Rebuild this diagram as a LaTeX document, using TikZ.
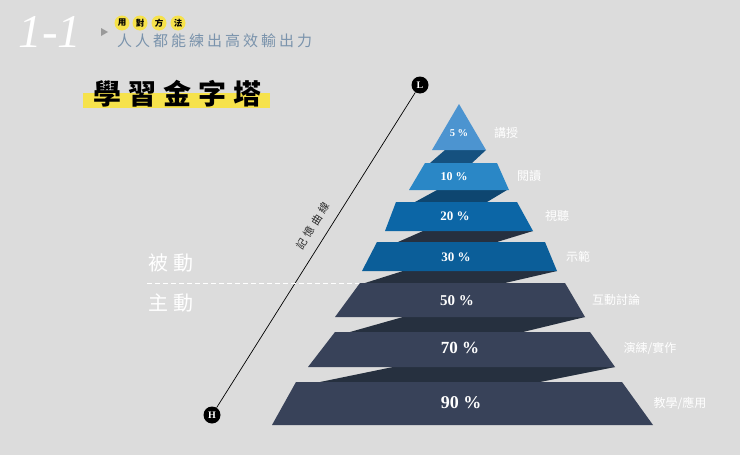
\documentclass[tikz,border=0pt]{standalone}
\usepackage{fontspec}
\setmainfont{Liberation Serif}
\newfontfamily\cjk{Noto Sans CJK TC}
\definecolor{bg}{HTML}{DCDCDC}
\definecolor{tA}{HTML}{4C94D0}
\definecolor{tB}{HTML}{2A87C6}
\definecolor{tC}{HTML}{0C66A6}
\definecolor{tD}{HTML}{0B5E99}
\definecolor{tE}{HTML}{384259}
\definecolor{sA}{HTML}{15517F}
\definecolor{sB}{HTML}{0E4670}
\definecolor{sC}{HTML}{26303F}
\definecolor{ylw}{HTML}{F6E24B}
\definecolor{subc}{HTML}{7A93AC}
\definecolor{arrc}{HTML}{9A9A9A}
\begin{document}
\begin{tikzpicture}[x=1pt,y=-1pt,
  pct/.style={text=white,inner sep=0pt},
  lbl/.style={text=white,inner sep=0pt,font=\cjk\fontsize{12}{12}\selectfont},
  side/.style={text=white,inner sep=0pt,font=\cjk\fontsize{20}{20}\selectfont},
  dot/.style={circle,fill=ylw,minimum size=15pt,inner sep=0pt,font=\cjk\bfseries\fontsize{8.5}{8.5}\selectfont},
  endpt/.style={circle,fill=black,minimum size=17pt,inner sep=0pt,text=white,font=\bfseries\fontsize{10}{10}\selectfont}]
\fill[bg] (0,0) rectangle (740,455);
\useasboundingbox (0,0) rectangle (740,455);

% header
\node[text=white,inner sep=0pt,font=\itshape\fontsize{47}{47}\selectfont] (num) at (50,32) {1-1};
\fill[arrc] (101,28) -- (108,32) -- (101,36) -- cycle;
\node[dot] (c1) at (122,23) {用};
\node[dot] (c2) at (140,23) {對};
\node[dot] (c3) at (159,23) {方};
\node[dot] (c4) at (178,23) {法};
\node[text=subc,inner sep=0pt,anchor=west,font=\cjk\fontsize{15}{15}\selectfont] (sub) at (117,41)
 {人\kern3pt 人\kern3pt 都\kern3pt 能\kern3pt 練\kern3pt 出\kern3pt 高\kern3pt 效\kern3pt 輸\kern3pt 出\kern3pt 力};

% title
\fill[ylw] (83,93) rectangle (270,108);
\node[inner sep=0pt,font=\cjk\bfseries\fontsize{28}{28}\selectfont] (title) at (177,94)
 {學\kern7pt 習\kern7pt 金\kern7pt 字\kern7pt 塔};

% memory line
\node[endpt] (L) at (420,85) {L};
\node[endpt] (H) at (212,415) {H};
\draw[line width=0.7pt] (L) -- (H);
\node[rotate=57.8,inner sep=0pt,text=black!85,font=\cjk\fontsize{10.5}{10.5}\selectfont] (curve) at (313,226)
 {記\kern3.5pt 憶\kern3.5pt 曲\kern3.5pt 線};

% passive / active
\coordinate (d0) at (147,283);
\coordinate (t5tl) at (360,283);
\draw[white,line width=1pt,dash pattern=on 5pt off 3pt] (d0) -- (t5tl);
\node[side] (passive) at (171,263) {被\kern5pt 動};
\node[side] (active) at (171,303) {主\kern5pt 動};

% shadows
\fill[sA] (445,150) -- (486,150) -- (472,163) -- (430,163) -- cycle;
\fill[sB] (437,190) -- (507,190) -- (487,202) -- (415,202) -- cycle;
\fill[sC] (423,231) -- (533,231) -- (497,242) -- (398,242) -- cycle;
\fill[sC] (403,271) -- (557,271) -- (505,283) -- (365,283) -- cycle;
\fill[sC] (403,317) -- (585,317) -- (523,332) -- (350,332) -- cycle;
\fill[sC] (393,367) -- (615,367) -- (540,382) -- (320,382) -- cycle;

% tiers
\fill[tA] (459,104) -- (486,150) -- (432,150) -- cycle;
\fill[tB] (425,163) -- (497,163) -- (509,190) -- (409,190) -- cycle;
\fill[tC] (396,202) -- (517,202) -- (533,231) -- (385,231) -- cycle;
\fill[tD] (377,242) -- (545,242) -- (557,271) -- (362,271) -- cycle;
\fill[tE] (t5tl) -- (565,283) -- (585,317) -- (335,317) -- cycle;
\fill[tE] (335,332) -- (590,332) -- (615,367) -- (308,367) -- cycle;
\fill[tE] (296,382) -- (622,382) -- (653,425) -- (272,425) -- cycle;

% percentages
\node[pct,font=\bfseries\fontsize{10.5}{10.5}\selectfont] (p1) at (459,133) {5 \%};
\node[pct,font=\bfseries\fontsize{12}{12}\selectfont] (p2) at (454,177) {10 \%};
\node[pct,font=\bfseries\fontsize{13}{13}\selectfont] (p3) at (455,216) {20 \%};
\node[pct,font=\bfseries\fontsize{13}{13}\selectfont] (p4) at (456,257) {30 \%};
\node[pct,font=\bfseries\fontsize{15}{15}\selectfont] (p5) at (457,301) {50 \%};
\node[pct,font=\bfseries\fontsize{17}{17}\selectfont] (p6) at (460,348) {70 \%};
\node[pct,font=\bfseries\fontsize{18}{18}\selectfont] (p7) at (461,403) {90 \%};

% labels
\node[lbl] (l1) at (506,133) {講授};
\node[lbl] (l2) at (529,176) {閱讀};
\node[lbl] (l3) at (557,216) {視聽};
\node[lbl] (l4) at (578,257) {示範};
\node[lbl] (l5) at (616,300) {互動討論};
\node[lbl] (l6) at (650,348) {演練/實作};
\node[lbl] (l7) at (680,403) {教學/應用};
\end{tikzpicture}
\end{document}
